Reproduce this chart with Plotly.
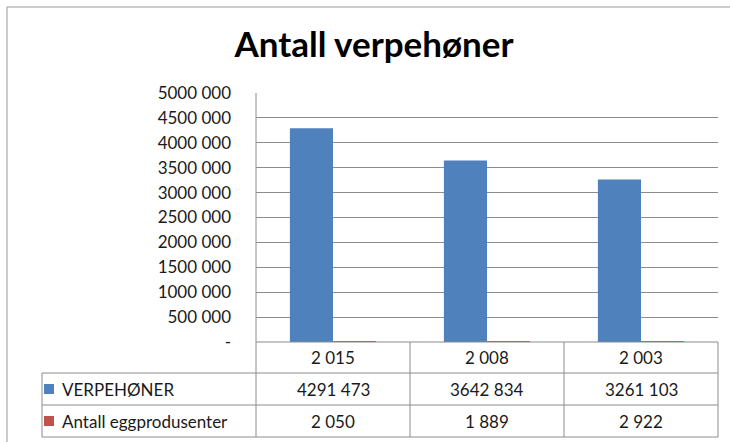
import plotly.graph_objects as go

# ---- data ----
years = [2015, 2008, 2003]
series_names = ["VERPEHØNER", "Antall eggprodusenter"]
verpehoner = [4291473, 3642834, 3261103]
eggprodusenter = [2050, 1889, 2922]
y_ticks = [0, 500000, 1000000, 1500000, 2000000, 2500000, 3000000, 3500000, 4000000, 4500000, 5000000]
colors = ["#4F81BD", "#C0504D"]


def fmt(v):
    v = int(v)
    if v == 0:
        return "-"
    if v >= 1000:
        return f"{v // 1000} {v % 1000:03d}"
    return str(v)


cats = [fmt(y) for y in years]
series_vals = [verpehoner, eggprodusenter]

W, H = 730, 442
L, R, T, B = 256, 718, 93, 342  # plot area pixels
FONT = "Lato"
GRID = "#8C8C8C"
TXT = "#1a1a1a"


def px(X):
    return (X - L) / (R - L)


def py(Y):
    return (B - Y) / (B - T)


fig = go.Figure()
for name, vals, c in zip(series_names, series_vals, colors):
    fig.add_trace(go.Bar(x=cats, y=vals, name=name, marker=dict(color=c, line=dict(width=0))))

shapes = []


def line(x0, y0, x1, y1, color=GRID, w=1):
    shapes.append(dict(type="line", xref="paper", yref="paper",
                       x0=px(x0), y0=py(y0), x1=px(x1), y1=py(y1),
                       line=dict(color=color, width=w)))


# table geometry
row_y = [342, 373, 405, 437]
col_x = [256, 410, 564, 718]
left_x = 42
line(256, 342, 718, 342)
for yy in row_y[1:]:
    line(left_x, yy, 718, yy)
line(left_x, 373, left_x, 437)
line(256, 93, 256, 437)
for xx in col_x[1:]:
    line(xx, 342, xx, 437)

# outer chart border
line(7, 7, 740, 7, color="#999999")
line(7, 7, 7, 450, color="#999999")

annotations = []
# header row
for c in cats:
    annotations.append(dict(x=c, xref="x", y=py((row_y[0] + row_y[1]) / 2), yref="paper",
                            text=c, showarrow=False, font=dict(family=FONT, size=17, color=TXT),
                            xanchor="center", yanchor="middle"))
# series rows
for i, (name, vals, col) in enumerate(zip(series_names, series_vals, colors)):
    yc = (row_y[i + 1] + row_y[i + 2]) / 2
    shapes.append(dict(type="rect", xref="paper", yref="paper",
                       x0=px(44), x1=px(54), y0=py(yc - 5), y1=py(yc + 5),
                       fillcolor=col, line=dict(width=0)))
    annotations.append(dict(x=px(60), xref="paper", y=py(yc), yref="paper", text=name,
                            showarrow=False, font=dict(family=FONT, size=17, color=TXT),
                            xanchor="left", yanchor="middle"))
    for c, v in zip(cats, vals):
        annotations.append(dict(x=c, xref="x", y=py(yc), yref="paper", text=fmt(v),
                                showarrow=False, font=dict(family=FONT, size=17, color=TXT),
                                xanchor="center", yanchor="middle"))

fig.update_layout(
    width=W, height=H,
    margin=dict(l=L, r=W - R, t=T, b=H - B, pad=0),
    paper_bgcolor="white", plot_bgcolor="white",
    title=dict(text="<b>Antall verpehøner</b>", x=374 / W, xanchor="center",
               y=1 - 45 / H, yref="container", yanchor="middle",
               font=dict(family=FONT, size=35, color="#000")),
    showlegend=False,
    barmode="group", bargap=0.44, bargroupgap=0,
    xaxis=dict(showticklabels=False, showgrid=False, zeroline=False, showline=False, ticks=""),
    yaxis=dict(range=[0, 5000000], tickvals=y_ticks, ticktext=[fmt(v) for v in y_ticks],
               showgrid=True, gridcolor=GRID, gridwidth=1, zeroline=False, showline=False,
               ticks="", ticklabelstandoff=24,
               tickfont=dict(family=FONT, size=17, color=TXT)),
    shapes=shapes, annotations=annotations,
)

fig.write_html("out.html", config={"displayModeBar": False},
               post_script="document.body.style.margin='0';")
